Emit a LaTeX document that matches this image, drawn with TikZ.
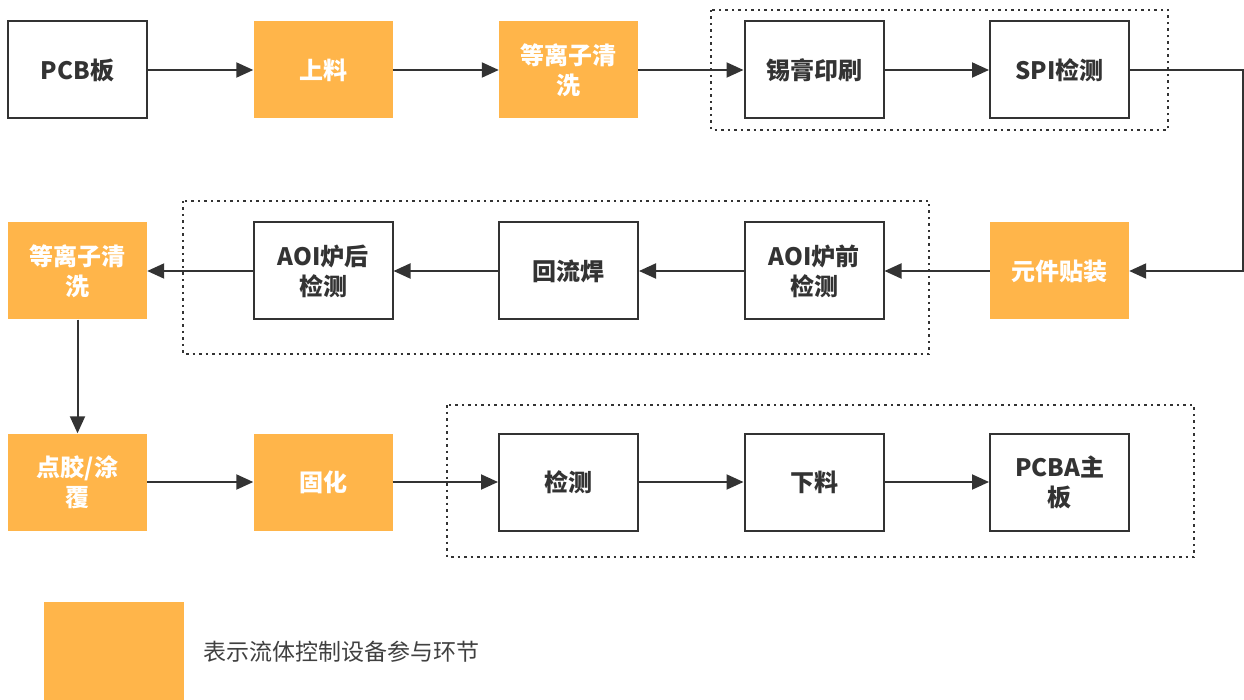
\documentclass[tikz,border=0pt]{standalone}
\usepackage{fontspec}
\newfontfamily\cjk{Noto Sans CJK SC}
\usetikzlibrary{arrows.meta,positioning}
\definecolor{orangefill}{RGB}{255,181,74}
\definecolor{darkline}{RGB}{51,51,51}
\definecolor{legtext}{RGB}{64,64,64}
\tikzset{
  base/.style={minimum width=139pt,minimum height=97pt,inner sep=0pt,align=center,
    font=\cjk\bfseries\fontsize{24}{30}\selectfont},
  proc/.style={base,draw=darkline,line width=2pt,fill=white,text=darkline},
  fluid/.style={base,fill=orangefill,text=white},
  grp/.style={draw=darkline,line width=2pt,dash pattern=on 2.5pt off 4pt},
  arr/.style={draw=darkline,line width=2pt,-{Triangle[length=17pt,width=15pt]}},
}
\begin{document}
\begin{tikzpicture}[x=1pt,y=-1pt]
\useasboundingbox (0,0) rectangle (1244,700);
% dotted groups
\draw[grp] (711,10) rectangle (1168,130);
\draw[grp] (183,201) rectangle (929,354);
\draw[grp] (447,405) rectangle (1194,557);
% row 1
\node[proc]  (pcb)   at (77.5,70)   {PCB板};
\node[fluid] (sl)    at (323,70)    {上料};
\node[fluid] (qx1)   at (568.5,70)  {等离子清\\洗};
\node[proc]  (xg)    at (814,70)    {锡膏印刷};
\node[proc]  (spi)   at (1059.5,70) {SPI检测};
% row 2
\node[fluid] (qx2)   at (77.5,271)  {等离子清\\洗};
\node[proc]  (aoih)  at (323,271)   {AOI炉后\\检测};
\node[proc]  (hlh)   at (568.5,271) {回流焊};
\node[proc]  (aoiq)  at (814,271)   {AOI炉前\\检测};
\node[fluid] (tz)    at (1059.5,271){元件贴装};
% row 3
\node[fluid] (dj)    at (77.5,482)  {点胶/涂\\覆};
\node[fluid] (gh)    at (323,482)   {固化};
\node[proc]  (jc)    at (568.5,482) {检测};
\node[proc]  (xl)    at (814,482)   {下料};
\node[proc]  (pcba)  at (1059.5,482){PCBA主\\板};
% legend
\node[fill=orangefill,minimum width=140pt,minimum height=98pt,inner sep=0pt] (leg) at (114,651) {};
\node[anchor=west,inner sep=0pt,text=legtext,font=\cjk\fontsize{23}{28}\selectfont] (legt) at (203,652) {表示流体控制设备参与环节};
% connectors
\coordinate (c1) at (1243,70);
\coordinate (c2) at (1243,271);
\draw[arr] (pcb) -- (sl);
\draw[arr] (sl) -- (qx1);
\draw[arr] (qx1) -- (xg);
\draw[arr] (xg) -- (spi);
\draw[arr] (spi.east) -- (c1) -- (c2) -- (tz.east);
\draw[arr] (tz) -- (aoiq);
\draw[arr] (aoiq) -- (hlh);
\draw[arr] (hlh) -- (aoih);
\draw[arr] (aoih) -- (qx2);
\draw[arr] (qx2) -- (dj);
\draw[arr] (dj) -- (gh);
\draw[arr] (gh) -- (jc);
\draw[arr] (jc) -- (xl);
\draw[arr] (xl) -- (pcba);
\end{tikzpicture}
\end{document}
